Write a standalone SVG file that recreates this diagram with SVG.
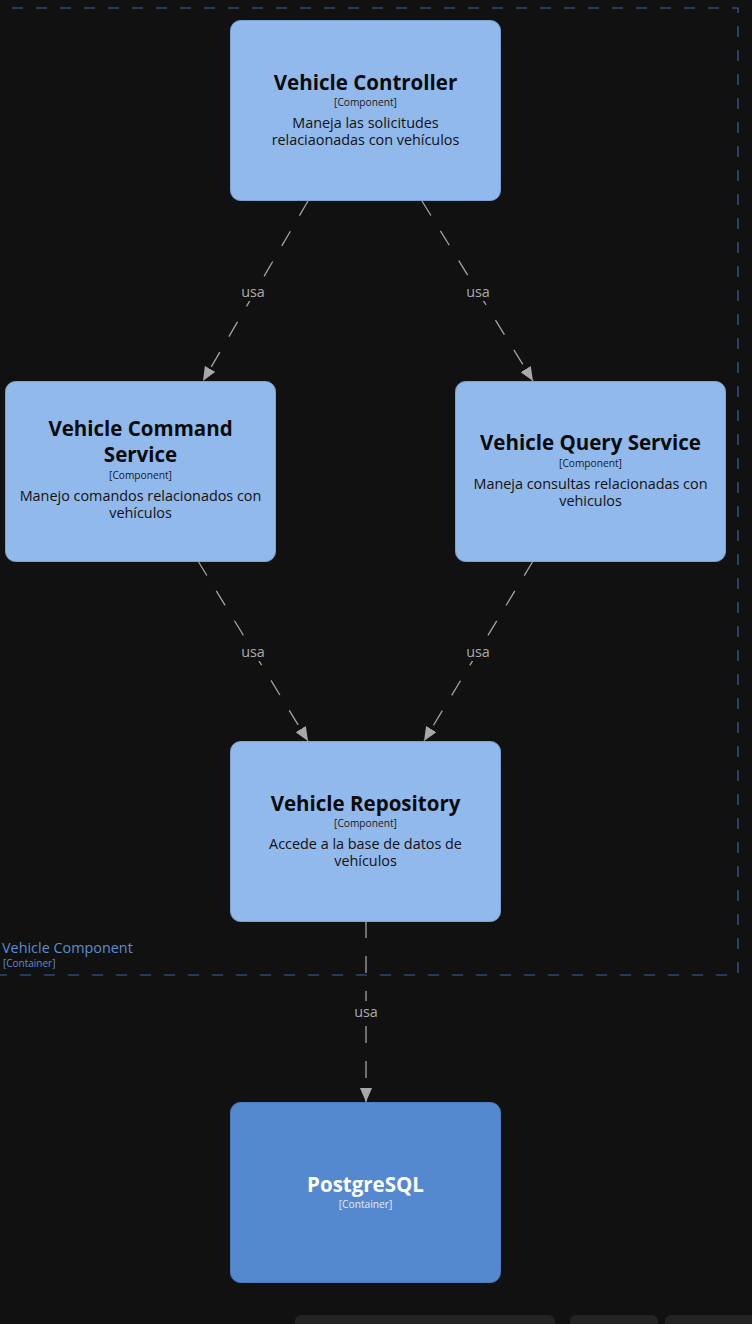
<svg xmlns="http://www.w3.org/2000/svg" width="752" height="1324" viewBox="0 0 752 1324">
<defs>
<style>
.comp{fill:#91b9eb;stroke:#7aa2d6;stroke-width:1}
.cont{fill:#5589cf;stroke:#4a7bbd;stroke-width:1}
.t{font-family:"Open Sans","Noto Sans","DejaVu Sans",sans-serif;text-anchor:middle}
.title{font-size:20.5px;font-weight:bold;fill:#0b0b0b}
.tech{font-size:10.2px;fill:#1a1a1a}
.desc{font-size:14.4px;fill:#111}
.edge{stroke:#a3a3a3;stroke-width:1.3;fill:none;stroke-dasharray:17 18}
.lbl{font-family:"Open Sans","Noto Sans","DejaVu Sans",sans-serif;font-size:14.4px;fill:#aaaaaa;text-anchor:middle}
</style>
<marker id="arr" viewBox="0 0 14 12" refX="14" refY="6" markerWidth="14" markerHeight="12" markerUnits="userSpaceOnUse" orient="auto">
<path d="M0,0 L14,6 L0,12 Z" fill="#a8a8a8"/>
</marker>
</defs>
<rect x="0" y="0" width="752" height="1324" fill="#111111"/>

<g id="boundary">
<rect x="-12" y="8" width="750" height="967" fill="none" stroke="#3a669e" stroke-width="1.2" stroke-dasharray="11 13"/>
<text x="2" y="953" font-family="'Open Sans','Noto Sans',sans-serif" font-size="14.4" fill="#5a8ed0">Vehicle Component</text>
<text x="3" y="967" font-family="'Open Sans','Noto Sans',sans-serif" font-size="10" fill="#5a8ed0">[Container]</text>
</g>

<g id="connectors">
<line class="edge" x1="308" y1="201" x2="203" y2="381" marker-end="url(#arr)"/>
<line class="edge" x1="422" y1="201" x2="533" y2="381" marker-end="url(#arr)"/>
<line class="edge" x1="198" y1="561" x2="308" y2="741" marker-end="url(#arr)"/>
<line class="edge" x1="533" y1="561" x2="424" y2="741" marker-end="url(#arr)"/>
<line class="edge" x1="366" y1="921" x2="366" y2="1102" marker-end="url(#arr)"/>
<rect x="238" y="281" width="30" height="20" fill="#111111"/>
<text class="lbl" x="253" y="297">usa</text>
<rect x="463" y="281" width="30" height="20" fill="#111111"/>
<text class="lbl" x="478" y="297">usa</text>
<rect x="238" y="641" width="30" height="20" fill="#111111"/>
<text class="lbl" x="253" y="657">usa</text>
<rect x="463" y="641" width="30" height="20" fill="#111111"/>
<text class="lbl" x="478" y="657">usa</text>
<rect x="351" y="1001" width="30" height="20" fill="#111111"/>
<text class="lbl" x="366" y="1017">usa</text>
</g>

<g id="vehicle-controller">
<rect class="comp" x="230.5" y="20.5" width="270" height="180" rx="10"/>
<text class="t title" x="365.5" y="90">Vehicle Controller</text>
<text class="t tech" x="365.5" y="106">[Component]</text>
<text class="t desc" x="365.5" y="128">Maneja las solicitudes</text>
<text class="t desc" x="365.5" y="145">relaciaonadas con vehículos</text>
</g>

<g id="vehicle-command-service">
<rect class="comp" x="5.5" y="381.5" width="270" height="180" rx="10"/>
<text class="t title" x="140.5" y="436">Vehicle Command</text>
<text class="t title" x="140.5" y="462">Service</text>
<text class="t tech" x="140.5" y="479">[Component]</text>
<text class="t desc" x="140.5" y="501">Manejo comandos relacionados con</text>
<text class="t desc" x="140.5" y="518">vehículos</text>
</g>

<g id="vehicle-query-service">
<rect class="comp" x="455.5" y="381.5" width="270" height="180" rx="10"/>
<text class="t title" x="590.5" y="450">Vehicle Query Service</text>
<text class="t tech" x="590.5" y="467">[Component]</text>
<text class="t desc" x="590.5" y="489">Maneja consultas relacionadas con</text>
<text class="t desc" x="590.5" y="506">vehiculos</text>
</g>

<g id="vehicle-repository">
<rect class="comp" x="230.5" y="741.5" width="270" height="180" rx="10"/>
<text class="t title" x="365.5" y="811">Vehicle Repository</text>
<text class="t tech" x="365.5" y="827">[Component]</text>
<text class="t desc" x="365.5" y="849">Accede a la base de datos de</text>
<text class="t desc" x="365.5" y="866">vehículos</text>
</g>

<g id="postgresql">
<rect class="cont" x="230.5" y="1102.5" width="270" height="180" rx="10"/>
<text class="t title" x="365.5" y="1192" style="fill:#ffffff">PostgreSQL</text>
<text class="t tech" x="365.5" y="1208" style="fill:#e4ecf7">[Container]</text>
</g>

<g id="toolbar">
<rect x="295" y="1315" width="260" height="20" rx="6" fill="#232323"/>
<rect x="570" y="1315" width="88" height="20" rx="6" fill="#232323"/>
<rect x="665" y="1315" width="100" height="20" rx="6" fill="#232323"/>
</g>
</svg>
